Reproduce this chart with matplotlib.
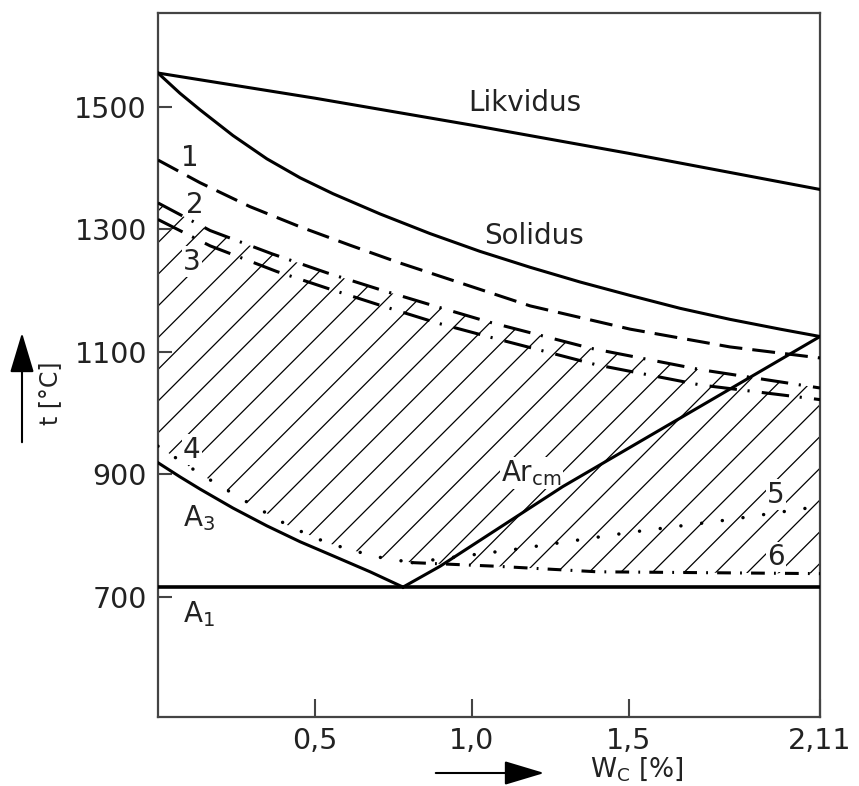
import numpy as np
import matplotlib
matplotlib.use("Agg")
import matplotlib.pyplot as plt
from matplotlib.patches import Polygon, FancyArrowPatch

plt.rcParams['font.family'] = 'DejaVu Sans'
plt.rcParams['mathtext.default'] = 'regular'

# curves (x = wt% C, y = temperature in degC)
liq_x = [0, 0.5, 1.0, 1.5, 2.11]
liq_y = [1555, 1514, 1470, 1424, 1365]

sol_x = [0, 0.07, 0.134, 0.239, 0.347, 0.453, 0.558, 0.708, 0.867, 1.026,
         1.186, 1.345, 1.505, 1.664, 1.823, 1.983, 2.11]
sol_y = [1555, 1522, 1495, 1453, 1415, 1384, 1358, 1325, 1293, 1264,
         1238, 1214, 1192, 1171, 1153, 1137, 1125]

l1_x = [0, 0.134, 0.293, 0.453, 0.612, 0.771, 0.931, 1.186, 1.505, 1.823, 2.11]
l1_y = [1413, 1376, 1337, 1304, 1274, 1245, 1218, 1175, 1137, 1108, 1090]

l2_x = [0, 0.166, 0.363, 0.538, 0.711, 0.88, 1.052, 1.377, 1.728, 2.11]
l2_y = [1343, 1298, 1260, 1229, 1201, 1175, 1149, 1106, 1071, 1041]

l3_x = [0, 0.166, 0.379, 0.538, 0.714, 0.89, 1.058, 1.396, 1.728, 2.11]
l3_y = [1316, 1273, 1231, 1204, 1175, 1147, 1124, 1079, 1046, 1022]

l4_x = [0, 0.14, 0.28, 0.42, 0.54, 0.69, 0.81]
l4_y = [946, 899, 856, 815, 788, 766, 756]

l5_x = [0.81, 0.87, 1.13, 1.5, 1.82, 2.11]
l5_y = [756, 760, 777, 805, 826, 848]

l6_x = [0.81, 1.08, 1.4, 2.11]
l6_y = [756, 750, 741, 738]

a3_x = [0, 0.07, 0.134, 0.239, 0.347, 0.453, 0.558, 0.676, 0.781]
a3_y = [919, 896, 876, 845, 816, 790, 767, 741, 716]

arcm_x = [0.781, 0.899, 1.29, 2.11]
arcm_y = [716, 750, 880, 1125]

a1_x = [0, 2.11]
a1_y = [716, 716]

xticks = [0.5, 1.0, 1.5, 2.11]
xtick_labels = ["0,5", "1,0", "1,5", "2,11"]
yticks = [700, 900, 1100, 1300, 1500]

labels = [
    ("Likvidus", 1.17, 1506),
    ("Solidus", 1.20, 1289),
    ("1", 0.10, 1417),
    ("2", 0.118, 1340),
    ("3", 0.108, 1247),
    ("4", 0.108, 940),
    ("A$_3$", 0.13, 829),
    ("A$_1$", 0.13, 672),
    ("Ar$_{cm}$", 1.19, 902),
    ("5", 1.97, 867),
    ("6", 1.97, 765),
]

W, H = 859, 786
fig = plt.figure(figsize=(W / 100, H / 100), dpi=100)
ax = fig.add_axes([158 / W, 1 - 717 / H, 662 / W, 704 / H])
xmin, xmax = 0, 2.11
ymin, ymax = 504, 1653
ax.set_xlim(xmin, xmax)
ax.set_ylim(ymin, ymax)

# hatched region: between curve 2 on top and curves 4 / 6 at the bottom
poly_x = l2_x + [2.11] + l6_x[::-1] + l4_x[::-1]
poly_y = l2_y + [l6_y[-1]] + l6_y[::-1] + l4_y[::-1]
region = Polygon(np.column_stack([poly_x, poly_y]), closed=True,
                 fc='none', ec='none', transform=ax.transData)
ax.add_patch(region)

ax_w_px, ax_h_px = 662, 704
slope = ((ymax - ymin) / ax_h_px) * (ax_w_px / (xmax - xmin))  # 45 deg on screen
step = 31.7 * (ymax - ymin) / ax_h_px
y_at_right = 1013.5
for k in range(-40, 40):
    yr = y_at_right - k * step
    xs = np.array([xmin, xmax])
    ys = yr + slope * (xs - xmax)
    ln, = ax.plot(xs, ys, color='black', lw=0.9, zorder=1, solid_capstyle='butt')
    ln.set_clip_path(region)

lw = 2.2
ax.plot(liq_x, liq_y, color='black', lw=lw, zorder=3)
ax.plot(sol_x, sol_y, color='black', lw=lw, zorder=3)
ax.plot(l1_x, l1_y, color='black', lw=lw, zorder=3, dashes=(7.5, 3.3))
ax.plot(l2_x, l2_y, color='black', lw=lw, zorder=3, dashes=(9, 3.5, 0.7, 4))
ax.plot(l3_x, l3_y, color='black', lw=lw, zorder=3, dashes=(9, 3.5, 0.7, 4))
ax.plot(l4_x, l4_y, color='black', lw=2.5, zorder=3, dashes=(0.01, 6),
        dash_capstyle='round')
ax.plot(l5_x, l5_y, color='black', lw=2.5, zorder=3, dashes=(0.01, 6),
        dash_capstyle='round')
ax.plot(l6_x, l6_y, color='black', lw=lw, zorder=3, dashes=(4.5, 3, 0.6, 3))
ax.plot(a3_x, a3_y, color='black', lw=lw, zorder=3)
ax.plot(arcm_x, arcm_y, color='black', lw=lw, zorder=3)
ax.plot(a1_x, a1_y, color='black', lw=2.6, zorder=3)

for txt, x, y in labels:
    ax.text(x, y, txt, fontsize=20, color='#222222', ha='center', va='center',
            zorder=2, bbox=dict(fc='white', ec='none', pad=1.0))

ax.set_xticks(xticks)
ax.set_xticklabels(xtick_labels)
ax.set_yticks(yticks)
ax.tick_params(direction='in', length=10, width=1.5, color='#444444',
               labelsize=20.5, labelcolor='#222222')
ax.tick_params(axis='x', length=13, pad=7)
ax.tick_params(axis='y', pad=8)
for sp in ax.spines.values():
    sp.set_color('#444444')
    sp.set_linewidth(1.6)

# axis captions with arrows
fig.text(50 / W, 1 - 393 / H, "t [°C]", rotation=90, fontsize=17,
         color='#222222', ha='center', va='center')
fig.text(637 / W, 1 - 769 / H, "W$_C$ [%]", fontsize=19,
         color='#222222', ha='center', va='center')
fig.add_artist(FancyArrowPatch((22 / W, 1 - 445 / H), (22 / W, 1 - 330 / H),
                               transform=fig.transFigure, color='black', lw=1.5,
                               arrowstyle='-|>,head_length=1.0,head_width=0.3',
                               mutation_scale=25))
fig.add_artist(FancyArrowPatch((433 / W, 1 - 773 / H), (547 / W, 1 - 773 / H),
                               transform=fig.transFigure, color='black', lw=1.5,
                               arrowstyle='-|>,head_length=1.0,head_width=0.3',
                               mutation_scale=25))

fig.savefig("out.png", dpi=100)
